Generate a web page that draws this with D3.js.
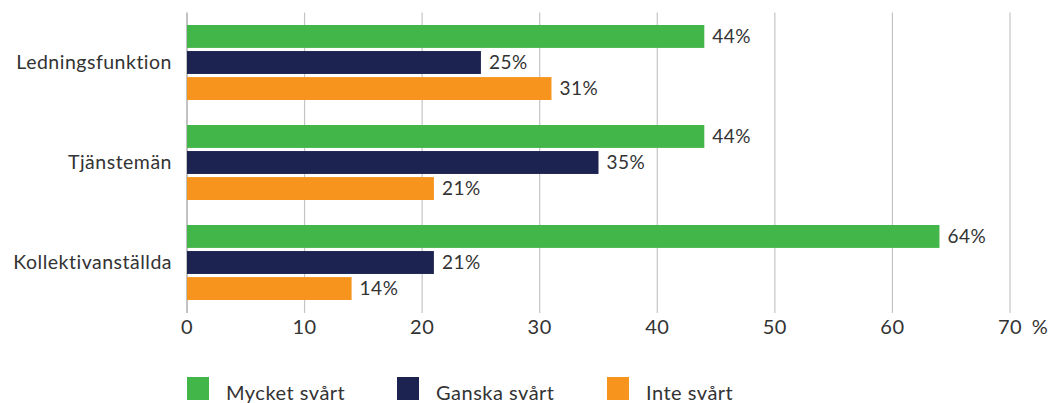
<html>
<head>
<meta charset="utf-8">
<style>
  body { margin: 0; background: #fff; }
  svg text { font-family: Lato, "Noto Sans", sans-serif; fill: #333; letter-spacing: 0.5px; }
</style>
</head>
<body>
<svg id="chart" width="1062" height="403"></svg>
<script src="https://cdnjs.cloudflare.com/ajax/libs/d3/7.8.5/d3.min.js"></script>
<script>
    var categories = ["Ledningsfunktion", "Tjänstemän", "Kollektivanställda"];
    var seriesNames = ["Mycket svårt", "Ganska svårt", "Inte svårt"];
    var mycket = [44, 44, 64];
    var ganska = [25, 35, 21];
    var inte = [31, 21, 14];
    var ticks = [0, 10, 20, 30, 40, 50, 60, 70];
    var colors = ["#43b649", "#1c2350", "#f7941d"];

    var values = [mycket, ganska, inte];
    var svg = d3.select("#chart");

    var x = d3.scaleLinear().domain([0, 70]).range([187, 1010]);
    var y = d3.scaleBand().domain(categories).range([12.5, 312.5]).paddingInner(0).paddingOuter(0);
    var inner = d3.scaleBand().domain(seriesNames).range([12.5, 87.5]).paddingInner(0.12);

    // gridlines
    svg.append("g").selectAll("line").data(ticks).enter().append("line")
        .attr("x1", d => x(d)).attr("x2", d => x(d))
        .attr("y1", 12.5).attr("y2", 313)
        .attr("stroke", d => d === 0 ? "#999" : "#c4c4c4")
        .attr("stroke-width", 1.2);

    // bars
    var groups = svg.append("g").selectAll("g").data(categories).enter().append("g")
        .attr("transform", d => "translate(0," + y(d) + ")");

    groups.each(function (cat, ci) {
        var g = d3.select(this);
        seriesNames.forEach(function (s, si) {
            var v = values[si][ci];
            g.append("rect")
                .attr("x", x(0)).attr("y", inner(s))
                .attr("width", x(v) - x(0)).attr("height", inner.bandwidth())
                .attr("fill", colors[si]);
            g.append("text")
                .attr("x", x(v) + 8).attr("y", inner(s) + inner.bandwidth() / 2)
                .attr("dy", "0.35em").attr("font-size", 19)
                .text(v + "%");
        });
    });

    // category labels
    svg.append("g").selectAll("text").data(categories).enter().append("text")
        .attr("x", 172).attr("y", d => y(d) + y.bandwidth() / 2)
        .attr("dy", "0.35em").attr("text-anchor", "end").attr("font-size", 19.5)
        .text(d => d);

    // x tick labels
    svg.append("g").selectAll("text").data(ticks).enter().append("text")
        .attr("x", d => x(d)).attr("y", 327).attr("dy", "0.35em")
        .attr("text-anchor", "middle").attr("font-size", 20)
        .text(d => d);
    svg.append("text").attr("x", 1040).attr("y", 327).attr("dy", "0.35em")
        .attr("text-anchor", "middle").attr("font-size", 20).text("%");

    // legend
    var legX = [187, 397, 607];
    var leg = svg.append("g").selectAll("g").data(seriesNames).enter().append("g")
        .attr("transform", (d, i) => "translate(" + legX[i] + ",377)");
    leg.append("rect").attr("width", 22).attr("height", 23).attr("fill", (d, i) => colors[i]);
    leg.append("text").attr("x", 39).attr("y", 16).attr("dy", "0.35em")
        .attr("font-size", 20).text(d => d);
</script>
</body>
</html>
